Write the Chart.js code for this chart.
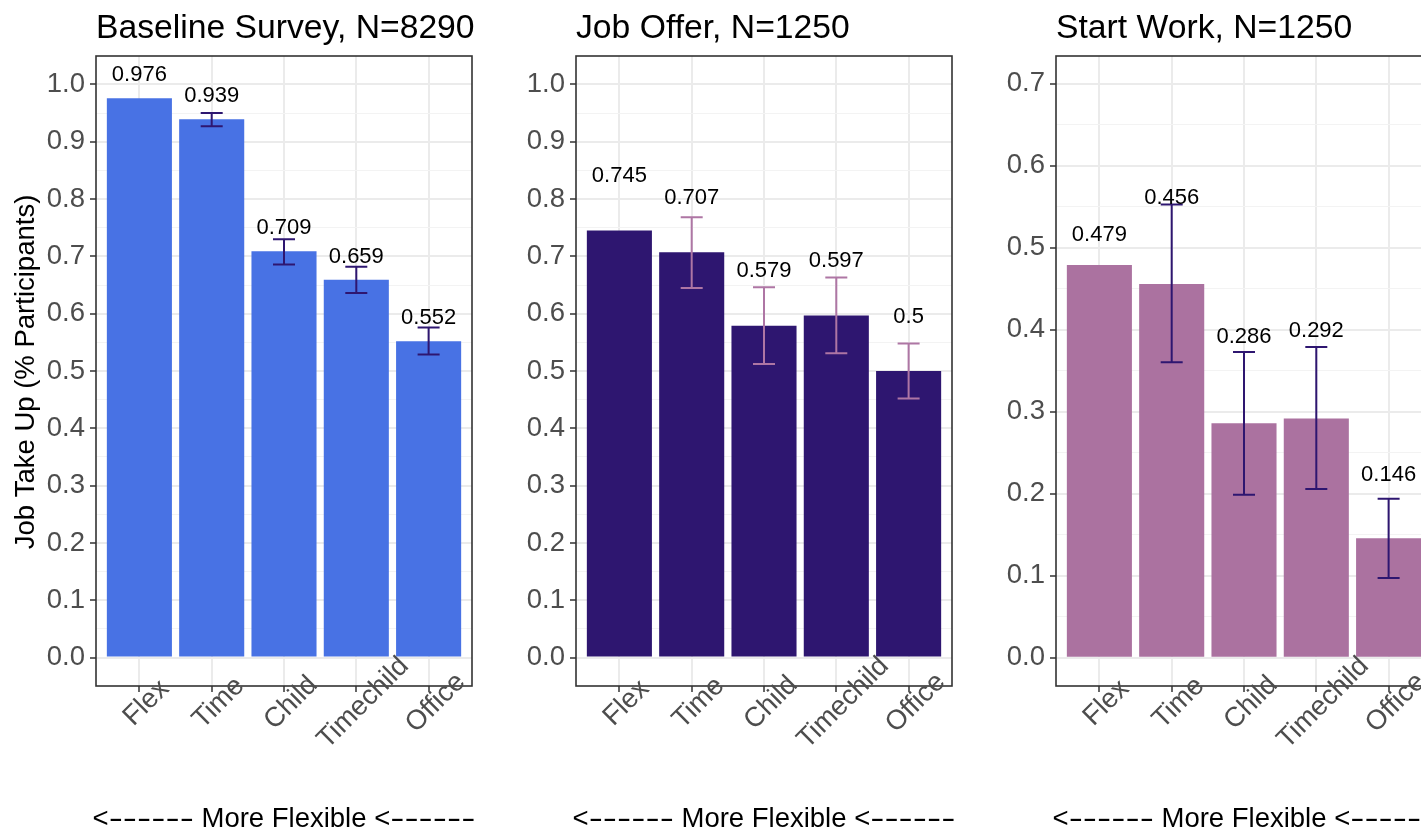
<!DOCTYPE html>
<html><head><meta charset="utf-8">
<script src="https://cdn.jsdelivr.net/npm/chart.js@4.4.1/dist/chart.umd.min.js"></script>
<style>
html,body{margin:0;padding:0;background:#fff;overflow:hidden;width:1421px;height:827px;}
.panel{position:absolute;top:0;width:480px;height:827px;}
canvas{display:block;}
</style></head><body>
<div class="panel" style="left:0"><canvas id="c1" width="480" height="827"></canvas></div>
<div class="panel" style="left:480px"><canvas id="c2" width="480" height="827"></canvas></div>
<div class="panel" style="left:960px"><canvas id="c3" width="480" height="827"></canvas></div>
<script>
// ---------- data ----------
const categories = ['Flex', 'Time', 'Child', 'Timechild', 'Office'];
const panelTitles = ['Baseline Survey, N=8290', 'Job Offer, N=1250', 'Start Work, N=1250'];
const yAxisTitle = 'Job Take Up (% Participants)';
const xAxisTitleParts = ['<', '------', ' More Flexible ', '<', '------'];

const baselineValues = [0.976, 0.939, 0.709, 0.659, 0.552];
const baselineLow    = [null, 0.927, 0.686, 0.636, 0.529];
const baselineHigh   = [null, 0.950, 0.730, 0.682, 0.576];
const baselineLabelY = [1.016, 0.979, 0.749, 0.699, 0.592];

const jobOfferValues = [0.745, 0.707, 0.579, 0.597, 0.5];
const jobOfferLow    = [null, 0.645, 0.512, 0.531, 0.452];
const jobOfferHigh   = [null, 0.768, 0.646, 0.663, 0.548];
const jobOfferLabelY = [0.840, 0.802, 0.674, 0.692, 0.595];

const startValues = [0.479, 0.456, 0.286, 0.292, 0.146];
const startLow    = [null, 0.3605, 0.199, 0.206, 0.0975];
const startHigh   = [null, 0.553, 0.373, 0.379, 0.194];
const startLabelY = [0.516, 0.561, 0.391, 0.3985, 0.2226];

const yTickLabelsFull  = ['0.0','0.1','0.2','0.3','0.4','0.5','0.6','0.7','0.8','0.9','1.0'];
const yTickLabelsStart = ['0.0','0.1','0.2','0.3','0.4','0.5','0.6','0.7'];
const yRangeFull  = [-0.0495, 1.0495];
const yRangeStart = [-0.0343, 0.734];

// ---------- drawing ----------
const FONT = '"Liberation Sans", Arial, Helvetica, sans-serif';

function makePanel(id, cfg) {
  const majors = cfg.tickLabels.map(Number);
  const step = majors[1] - majors[0];
  const allTicks = [];
  majors.forEach((v, i) => {
    allTicks.push(v);
    if (i < majors.length - 1) allTicks.push(+(v + step / 2).toFixed(5));
  });
  const majorIndex = v => majors.findIndex(m => Math.abs(m - v) < 1e-9);
  const isMajor = c => c && c.tick && majorIndex(c.tick.value) >= 0;

  const overlay = {
    id: 'overlay' + id,
    afterDatasetsDraw(chart) {
      const { ctx, chartArea: a, scales: { x, y } } = chart;
      ctx.save();
      // error bars
      ctx.strokeStyle = cfg.errColor;
      ctx.lineWidth = 2;
      cfg.low.forEach((lo, i) => {
        const hi = cfg.high[i];
        if (lo == null || hi == null) return;
        const px = x.getPixelForValue(i), y1 = y.getPixelForValue(lo), y2 = y.getPixelForValue(hi);
        ctx.beginPath();
        ctx.moveTo(px, y1); ctx.lineTo(px, y2);
        ctx.moveTo(px - 11, y1); ctx.lineTo(px + 11, y1);
        ctx.moveTo(px - 11, y2); ctx.lineTo(px + 11, y2);
        ctx.stroke();
      });
      // value labels
      ctx.fillStyle = '#000';
      ctx.font = '22px ' + FONT;
      ctx.textAlign = 'center';
      ctx.textBaseline = 'middle';
      cfg.values.forEach((v, i) => {
        ctx.fillText(String(v), x.getPixelForValue(i), y.getPixelForValue(cfg.labelY[i]));
      });
      // panel border
      ctx.strokeStyle = '#333333';
      ctx.lineWidth = 1.6;
      ctx.strokeRect(a.left, a.top, a.right - a.left, a.bottom - a.top);
      // title
      ctx.fillStyle = '#000';
      ctx.font = '33.7px ' + FONT;
      ctx.textAlign = 'left';
      ctx.textBaseline = 'alphabetic';
      ctx.fillText(cfg.title, a.left, 38);
      // x category labels, rotated 45
      ctx.fillStyle = '#4d4d4d';
      ctx.font = '27.5px ' + FONT;
      ctx.textAlign = 'center';
      ctx.textBaseline = 'middle';
      categories.forEach((c, i) => {
        ctx.save();
        ctx.translate(x.getPixelForValue(i) + 7, a.bottom + 17);
        ctx.rotate(-Math.PI / 4);
        ctx.fillText(c, 0, 0);
        ctx.restore();
      });
      // x axis title
      ctx.fillStyle = '#000';
      ctx.font = '27.5px ' + FONT;
      ctx.textAlign = 'left';
      ctx.textBaseline = 'alphabetic';
      const dashScale = 1.55;
      const widths = xAxisTitleParts.map(p => ctx.measureText(p).width * (/^-+$/.test(p) ? dashScale : 1));
      const total = widths.reduce((s, w) => s + w, 0);
      let cx = (a.left + a.right) / 2 - total / 2;
      const baseY = 827;
      xAxisTitleParts.forEach((p, k) => {
        if (/^-+$/.test(p)) {
          ctx.save();
          ctx.translate(cx, baseY);
          ctx.scale(dashScale, 1);
          ctx.fillText(p, 0, 0);
          ctx.restore();
        } else {
          ctx.fillText(p, cx, baseY);
        }
        cx += widths[k];
      });
      // y axis title
      if (cfg.showYTitle) {
        ctx.save();
        ctx.translate(34, (a.top + a.bottom) / 2 + 1);
        ctx.rotate(-Math.PI / 2);
        ctx.textAlign = 'center';
        ctx.textBaseline = 'alphabetic';
        ctx.font = '27.5px ' + FONT;
        ctx.fillStyle = '#000';
        ctx.fillText(yAxisTitle, 0, 0);
        ctx.restore();
      }
      ctx.restore();
    }
  };

  return new Chart(document.getElementById(id).getContext('2d'), {
    type: 'bar',
    data: {
      datasets: [{
        data: cfg.values.map((v, i) => ({ x: i, y: v })),
        backgroundColor: cfg.barColor,
        borderWidth: 0,
        categoryPercentage: 1,
        barPercentage: 0.9
      }]
    },
    options: {
      responsive: false,
      animation: false,
      devicePixelRatio: 1,
      layout: { padding: { top: 56, right: 8, left: 0, bottom: 0 } },
      plugins: { legend: { display: false }, tooltip: { enabled: false }, title: { display: false } },
      scales: {
        x: {
          type: 'linear',
          min: -0.6,
          max: categories.length - 0.4,
          offset: false,
          afterBuildTicks: s => { s.ticks = categories.map((c, i) => ({ value: i })); },
          afterFit: s => { s.height = 141; },
          ticks: { display: false },
          grid: { color: '#ebebeb', lineWidth: 2, drawTicks: true, tickLength: 6,
                  tickColor: '#333333', tickWidth: 1.5, offset: false },
          border: { display: false }
        },
        y: {
          type: 'linear',
          min: cfg.yRange[0],
          max: cfg.yRange[1],
          afterBuildTicks: s => { s.ticks = allTicks.map(v => ({ value: v })); },
          afterFit: s => { s.width = 96; },
          ticks: {
            autoSkip: false, padding: 5, color: '#4d4d4d',
            font: { family: FONT, size: 27.5 },
            callback: v => { const k = majorIndex(v); return k >= 0 ? cfg.tickLabels[k] : ''; }
          },
          grid: {
            color: c => isMajor(c) ? '#ebebeb' : '#f3f3f3',
            lineWidth: c => isMajor(c) ? 2 : 1,
            tickLength: 6,
            tickColor: c => isMajor(c) ? '#333333' : 'rgba(0,0,0,0)',
            tickWidth: 1.5
          },
          border: { display: false }
        }
      }
    },
    plugins: [overlay]
  });
}

makePanel('c1', { title: panelTitles[0], values: baselineValues, low: baselineLow, high: baselineHigh,
  labelY: baselineLabelY, tickLabels: yTickLabelsFull, yRange: yRangeFull,
  barColor: '#4872e4', errColor: '#2e1670', showYTitle: true });
makePanel('c2', { title: panelTitles[1], values: jobOfferValues, low: jobOfferLow, high: jobOfferHigh,
  labelY: jobOfferLabelY, tickLabels: yTickLabelsFull, yRange: yRangeFull,
  barColor: '#2e1670', errColor: '#ae76a4', showYTitle: false });
makePanel('c3', { title: panelTitles[2], values: startValues, low: startLow, high: startHigh,
  labelY: startLabelY, tickLabels: yTickLabelsStart, yRange: yRangeStart,
  barColor: '#ab72a0', errColor: '#2e1670', showYTitle: false });
</script>
</body></html>
